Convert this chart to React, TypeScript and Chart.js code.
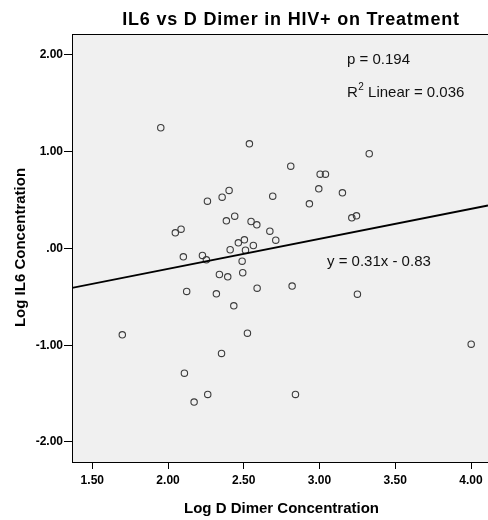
import React, { useEffect, useRef } from "react";
import { Chart, registerables } from "chart.js";

Chart.register(...registerables);

// Log D Dimer Concentration (x) and Log IL6 Concentration (y)
const logDDimer = [
  1.952, 2.537, 2.403, 2.357, 2.260, 2.691, 2.440, 2.385, 2.548, 2.586,
  2.086, 2.048, 2.672, 2.711, 2.504, 2.464, 2.563, 2.410, 2.511, 2.101,
  2.227, 2.253, 2.489, 2.339, 2.394, 2.493, 2.123, 2.319, 2.588, 2.434,
  1.698, 2.524, 2.353, 2.108, 2.262, 2.172, 3.328, 2.810, 3.004, 3.039,
  2.995, 3.151, 2.933, 3.213, 3.244, 2.819, 3.250, 4.001, 2.841,
];
const logIL6 = [
  1.248, 1.082, 0.600, 0.530, 0.489, 0.541, 0.334, 0.286, 0.279, 0.245,
  0.200, 0.162, 0.179, 0.086, 0.090, 0.059, 0.031, -0.013, -0.017, -0.086,
  -0.072, -0.117, -0.131, -0.269, -0.293, -0.251, -0.444, -0.469, -0.410, -0.593,
  -0.892, -0.875, -1.085, -1.289, -1.509, -1.588, 0.979, 0.851, 0.768, 0.768,
  0.617, 0.575, 0.462, 0.317, 0.338, -0.389, -0.472, -0.989, -1.509,
];

const fitSlope = 0.31;
const fitIntercept = -0.83;

const xTickValues = [1.5, 2.0, 2.5, 3.0, 3.5, 4.0];
const xTickLabels = ["1.50", "2.00", "2.50", "3.00", "3.50", "4.00"];
const yTickValues = [-2, -1, 0, 1, 2];
const yTickLabels = ["-2.00", "-1.00", ".00", "1.00", "2.00"];

const xMin = 1.366;
const xMax = 4.112;
const yMin = -2.207;
const yMax = 2.217;

const titleText = "IL6 vs D Dimer in HIV+ on Treatment";
const xTitle = "Log D Dimer Concentration";
const yTitle = "Log IL6 Concentration";
const pText = "p = 0.194";
const r2Rest = " Linear = 0.036";
const eqText = "y = 0.31x - 0.83";

const FONT = "'Liberation Sans', Arial, Helvetica, sans-serif";

const decorPlugin = {
  id: "decor",
  beforeDraw(chart: any) {
    const { ctx, chartArea: a, width, height } = chart;
    ctx.save();
    ctx.fillStyle = "#ffffff";
    ctx.fillRect(0, 0, width, height);
    ctx.fillStyle = "#f0f0f0";
    ctx.fillRect(a.left, a.top, a.right - a.left, a.bottom - a.top);
    ctx.restore();
  },
  afterDraw(chart: any) {
    const { ctx, chartArea: a } = chart;
    ctx.save();
    // top border
    ctx.strokeStyle = "#000";
    ctx.lineWidth = 1;
    ctx.beginPath();
    ctx.moveTo(a.left, a.top + 0.5);
    ctx.lineTo(a.right, a.top + 0.5);
    ctx.stroke();

    ctx.fillStyle = "#000";
    // title
    ctx.font = `bold 18px ${FONT}`;
    ctx.textAlign = "center";
    ctx.textBaseline = "alphabetic";
    try {
      (ctx as any).letterSpacing = "0.8px";
    } catch (e) {}
    ctx.fillText(titleText, 291, 25);
    try {
      (ctx as any).letterSpacing = "0px";
    } catch (e) {}

    // x title
    ctx.font = `bold 15px ${FONT}`;
    ctx.fillText(xTitle, 281.5, 513);

    // y title
    ctx.save();
    ctx.translate(25, 247.5);
    ctx.rotate(-Math.PI / 2);
    ctx.fillText(yTitle, 0, 0);
    ctx.restore();

    // annotations
    ctx.textAlign = "left";
    ctx.font = `15px ${FONT}`;
    ctx.fillStyle = "#111";
    ctx.fillText(pText, 347, 63.5);
    ctx.fillText("R", 347, 97);
    const rw = ctx.measureText("R").width;
    ctx.font = `10px ${FONT}`;
    ctx.fillText("2", 347 + rw + 0.5, 90);
    const tw = ctx.measureText("2").width;
    ctx.font = `15px ${FONT}`;
    ctx.fillText(r2Rest, 347 + rw + 0.5 + tw, 97);
    ctx.fillText(eqText, 327, 266);
    ctx.restore();
  },
};

export default function App() {
  const ref = useRef<HTMLCanvasElement | null>(null);

  useEffect(() => {
    const canvas = ref.current;
    if (!canvas) return;
    const points = logDDimer.map((x, i) => ({ x, y: logIL6[i] }));
    const fitLine = [xMin, xMax].map((x) => ({ x, y: fitSlope * x + fitIntercept }));

    const chart = new Chart(canvas, {
      type: "scatter",
      data: {
        datasets: [
          {
            type: "line",
            data: fitLine,
            borderColor: "#000",
            borderWidth: 1.8,
            pointRadius: 0,
            fill: false,
            order: 0,
          } as any,
          {
            data: points,
            pointStyle: "circle",
            pointRadius: 3.2,
            borderWidth: 1.1,
            borderColor: "#3c3c3c",
            backgroundColor: "rgba(0,0,0,0)",
            order: 1,
          },
        ],
      },
      options: {
        responsive: false,
        animation: false,
        layout: { autoPadding: false, padding: { top: 34, right: 0, left: 0, bottom: 0 } },
        plugins: {
          legend: { display: false },
          tooltip: { enabled: false },
          title: { display: false },
        },
        scales: {
          x: {
            type: "linear",
            min: xMin,
            max: xMax,
            afterBuildTicks: (s: any) => {
              s.ticks = xTickValues.map((v) => ({ value: v }));
            },
            afterFit: (s: any) => {
              s.height = 58;
              s.paddingLeft = 0;
              s.paddingRight = 0;
            },
            ticks: {
              color: "#000",
              font: { family: FONT, size: 12, weight: "bold" },
              padding: 4,
              maxRotation: 0,
              autoSkip: false,
              callback: (v: any) => xTickLabels[xTickValues.indexOf(Number(v))] ?? "",
            },
            grid: {
              drawOnChartArea: false,
              drawTicks: true,
              tickLength: 7,
              tickColor: "#000",
              tickWidth: 1,
            },
            border: { display: true, color: "#000", width: 1 },
          },
          y: {
            type: "linear",
            min: yMin,
            max: yMax,
            afterBuildTicks: (s: any) => {
              s.ticks = yTickValues.map((v) => ({ value: v }));
            },
            afterFit: (s: any) => {
              s.width = 72;
              s.paddingTop = 0;
              s.paddingBottom = 0;
            },
            ticks: {
              color: "#000",
              font: { family: FONT, size: 12, weight: "bold" },
              padding: 1,
              autoSkip: false,
              callback: (v: any) => yTickLabels[yTickValues.indexOf(Number(v))] ?? "",
            },
            grid: {
              drawOnChartArea: false,
              drawTicks: true,
              tickLength: 8,
              tickColor: "#000",
              tickWidth: 1,
            },
            border: { display: true, color: "#000", width: 1 },
          },
        },
      },
      plugins: [decorPlugin],
    });
    return () => chart.destroy();
  }, []);

  return (
    <div style={{ position: "fixed", left: 0, top: 0, width: 488, height: 520, background: "#fff" }}>
      <canvas ref={ref} width={488} height={520} style={{ display: "block", width: 488, height: 520 }} />
    </div>
  );
}
